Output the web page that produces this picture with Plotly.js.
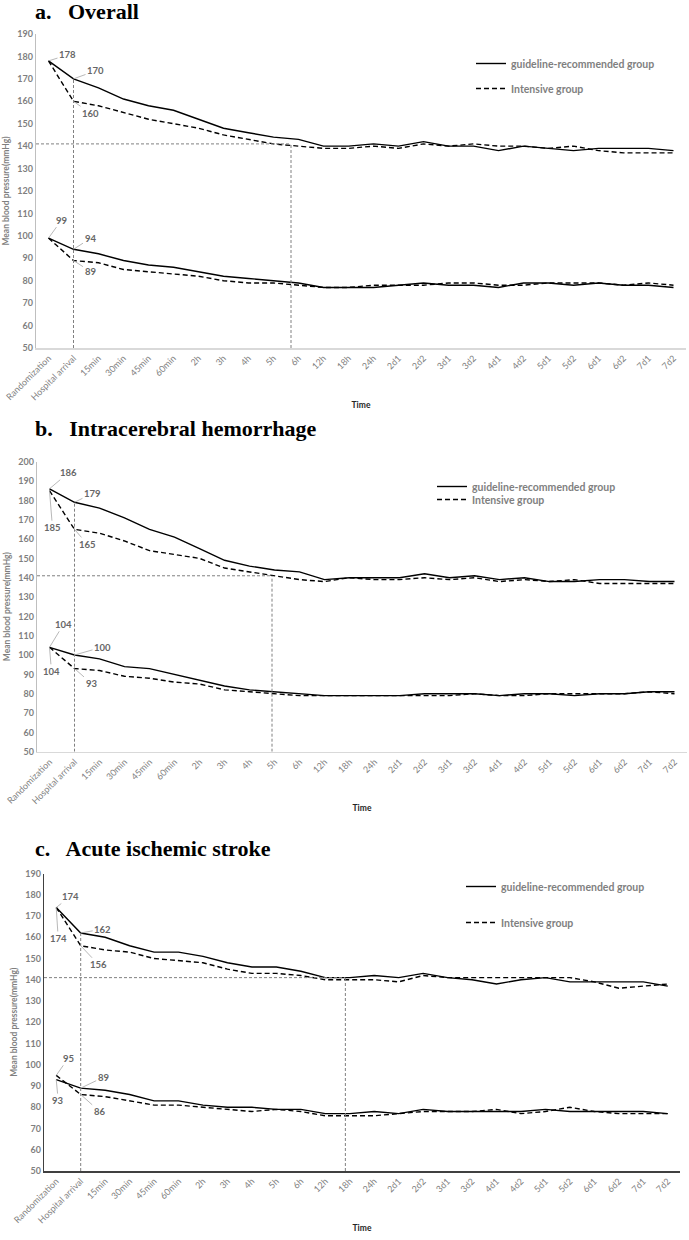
<!DOCTYPE html>
<html><head><meta charset="utf-8">
<script src="https://cdn.plot.ly/plotly-3.0.1.min.js"></script>
<style>html,body{margin:0;padding:0;background:#fff}#chart{width:689px;height:1240px}</style>
</head><body><div id="chart"></div>
<script>
// ---------- data ----------
const timePoints = ['Randomization','Hospital arrival','15min','30min','45min','60min','2h','3h','4h','5h','6h','12h','18h','24h','2d1','2d2','3d1','3d2','4d1','4d2','5d1','5d2','6d1','6d2','7d1','7d2'];
const seriesNames = ['guideline-recommended group','Intensive group'];

// a. Overall
const overallGuideSBP = [178,170,166,161,158,156,152,148,146,144,143,140,140,141,140,142,140,140,138,140,139,138,139,139,139,138];
const overallIntSBP   = [178,160,158,155,152,150,148,145,143,141,140,139,139,140,139,141,140,141,140,140,139,140,138,137,137,137];
const overallGuideDBP = [99,94,92,89,87,86,84,82,81,80,79,77,77,77,78,79,78,78,77,79,79,78,79,78,78,77];
const overallIntDBP   = [99,89,88,85,84,83,82,80,79,79,78,77,77,78,78,78,79,79,78,78,79,79,79,78,79,78];

// b. Intracerebral hemorrhage
const ichGuideSBP = [186,179,176,171,165,161,155,149,146,144,143,139,140,140,140,142,140,141,139,140,138,138,139,139,138,138];
const ichIntSBP   = [185,165,163,159,154,152,150,145,143,141,139,138,140,139,139,140,139,140,138,139,138,139,137,137,137,137];
const ichGuideDBP = [104,100,98,94,93,90,87,84,82,81,80,79,79,79,79,80,80,80,79,80,80,79,80,80,81,81];
const ichIntDBP   = [104,93,92,89,88,86,85,82,81,80,79,79,79,79,79,79,79,80,79,79,80,80,80,80,81,80];

// c. Acute ischemic stroke
const aisGuideSBP = [174,162,160,156,153,153,151,148,146,146,144,141,141,142,141,143,141,140,138,140,141,139,139,139,139,137];
const aisIntSBP   = [174,156,154,153,150,149,148,145,143,143,142,140,140,140,139,142,141,141,141,141,141,141,139,136,137,138];
const aisGuideDBP = [93,89,88,86,83,83,81,80,80,79,79,77,77,78,77,79,78,78,78,78,79,78,78,78,78,77];
const aisIntDBP   = [95,86,85,83,81,81,80,79,78,79,78,76,76,76,77,78,78,78,79,77,78,80,78,77,77,77];

const panelTitles = ['a.\u2002 Overall','b.\u2002 Intracerebral hemorrhage','c.\u2002 Acute ischemic stroke'];
const targetSBP = 141;

// ---------- layout helpers ----------
const W = 689, H = 1240;
const px = p => p / W;
const py = p => 1 - p / H;

const panels = [
  {s:'', title:panelTitles[0], gS:overallGuideSBP, iS:overallIntSBP, gD:overallGuideDBP, iD:overallIntDBP,
   xl:36, xr:686, ytop:34, ybot:348, yr:[50,190], titleY:12,
   lineX:9.7, ylineColor:'#bfbfbf', xlineColor:'#d9d9d9',
   legs:[{x:471, y:49}, {x:471, y:74}],
   labels:{gS0:[19,-6], gS1:[22,-8], iS1:[17,12], gD0:[13,-18], gD1:[17,-11], iD1:[17,11]}},
  {s:'2', title:panelTitles[1], gS:ichGuideSBP, iS:ichIntSBP, gD:ichGuideDBP, iD:ichIntDBP,
   xl:37, xr:687, ytop:461.7, ybot:751.7, yr:[50,200], titleY:428,
   lineX:8.9, ylineColor:'#bfbfbf', xlineColor:'#d9d9d9',
   legs:[{x:432, y:472}, {x:432, y:485}],
   labels:{gS0:[19,-16], iS0:[3,37], gS1:[18,-9], iS1:[13,15], gD0:[14,-23], iD0:[2,24], gD1:[28,-8], iD1:[17,15]}},
  {s:'3', title:panelTitles[2], gS:aisGuideSBP, iS:aisIntSBP, gD:aisGuideDBP, iD:aisIntDBP,
   xl:44, xr:680, ytop:873.5, ybot:1171, yr:[50,190], titleY:848,
   lineX:11.82, ylineColor:'#404040', xlineColor:'#404040',
   legs:[{x:461, y:872}, {x:461, y:908}],
   labels:{gS0:[14,-11], iS0:[2,31], gS1:[22,-4], iS1:[18,19], gD0:[2,21], iD0:[12,-17], gD1:[23,-11], iD1:[19,17]}}
];

const grey = '#7f7f7f';
const tickFont = {family:'Lato, "Open Sans", sans-serif', size:9, color:grey};
const traces = [];
const layout = {
  width: W, height: H, margin:{l:0,r:0,t:0,b:0},
  paper_bgcolor:'#fff', plot_bgcolor:'rgba(0,0,0,0)',
  font:{family:'Lato, "Open Sans", sans-serif', color:grey},
  shapes:[], annotations:[]
};

panels.forEach((p, k) => {
  const xa = 'x' + p.s, ya = 'y' + p.s;
  const lgG = 'legend' + (k === 0 ? '' : String(2*k + 1));
  const lgI = 'legend' + String(2*k + 2);
  const solid = {color:'#000', width:1.4};
  const dashed = {color:'#000', width:1.4, dash:'5px,3px'};
  traces.push({x:timePoints, y:p.gS, xaxis:xa, yaxis:ya, mode:'lines', line:solid, name:seriesNames[0], legend:lgG, legendgroup:'g'+k, showlegend:true, hoverinfo:'x+y'});
  traces.push({x:timePoints, y:p.gD, xaxis:xa, yaxis:ya, mode:'lines', line:solid, name:seriesNames[0], legend:lgG, legendgroup:'g'+k, showlegend:false, hoverinfo:'x+y'});
  traces.push({x:timePoints, y:p.iS, xaxis:xa, yaxis:ya, mode:'lines', line:dashed, name:seriesNames[1], legend:lgI, legendgroup:'i'+k, showlegend:true, hoverinfo:'x+y'});
  traces.push({x:timePoints, y:p.iD, xaxis:xa, yaxis:ya, mode:'lines', line:dashed, name:seriesNames[1], legend:lgI, legendgroup:'i'+k, showlegend:false, hoverinfo:'x+y'});

  layout['xaxis' + p.s] = {
    domain:[px(p.xl), px(p.xr)], anchor:ya, type:'category', range:[-0.5, timePoints.length-0.5],
    showline:true, linecolor:p.xlineColor, linewidth:1.5, ticks:'', showgrid:false, zeroline:false,
    tickangle:-45, tickfont:tickFont, fixedrange:true,
    title:{text:'Time', font:{family:'Lato, sans-serif', size:8.5, color:'#262626', weight:'bold'}, standoff:0}
  };
  layout['yaxis' + p.s] = {
    domain:[py(p.ybot), py(p.ytop)], anchor:xa, range:p.yr, dtick:10,
    showline:true, linecolor:p.ylineColor, linewidth:1.3, ticks:'', showgrid:false, zeroline:false,
    tickfont:Object.assign({}, tickFont, {weight:'bold'}), fixedrange:true,
    title:{text:'Mean blood pressure(mmHg)', font:{family:'Lato, sans-serif', size:8.5, color:grey, weight:'bold'}}
  };
  [[lgG, p.legs[0]], [lgI, p.legs[1]]].forEach(([name, pos]) => {
    layout[name] = {
      x:px(pos.x), y:py(pos.y), xanchor:'left', yanchor:'top', bgcolor:'rgba(0,0,0,0)', itemwidth:30,
      font:{family:'Lato, sans-serif', size:10.5, color:grey, weight:'bold'}
    };
  });

  // reference lines
  const ref = {color:'#808080', width:1, dash:'3px,2px'};
  layout.shapes.push({type:'line', xref:xa, yref:ya, x0:-0.5, x1:p.lineX, y0:targetSBP, y1:targetSBP, line:ref});
  layout.shapes.push({type:'line', xref:xa, yref:ya, x0:1, x1:1, y0:p.yr[0], y1:p.gS[1], line:ref});
  layout.shapes.push({type:'line', xref:xa, yref:ya, x0:p.lineX, x1:p.lineX, y0:p.yr[0], y1:targetSBP, line:ref});

  // data labels
  const src = {gS:p.gS, iS:p.iS, gD:p.gD, iD:p.iD};
  Object.keys(p.labels).forEach(key => {
    const arr = src[key.slice(0,2)], idx = +key[2];
    const [ax, ay] = p.labels[key];
    layout.annotations.push({xref:xa, yref:ya, x:timePoints[idx], y:arr[idx], text:String(arr[idx]),
      showarrow:true, arrowhead:0, arrowwidth:0.8, arrowcolor:'#a6a6a6', ax:ax, ay:ay, standoff:0,
      font:{family:'Lato, sans-serif', size:9.5, color:'#666', weight:'bold'}});
  });

  // panel title
  layout.annotations.push({xref:'paper', yref:'paper', x:px(33), y:py(p.titleY), xanchor:'left', yanchor:'middle',
    text:p.title, showarrow:false, font:{family:'"Liberation Serif", "Times New Roman", serif', size:22, color:'#000', weight:'bold'}});
});

Plotly.newPlot('chart', traces, layout, {staticPlot:true, displayModeBar:false});
</script></body></html>
